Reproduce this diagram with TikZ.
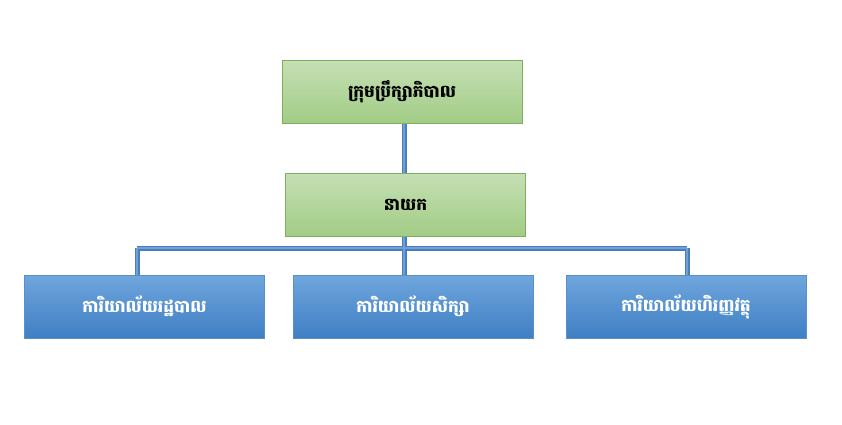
\documentclass[tikz,border=0pt]{standalone}
\usepackage{fontspec}
\newfontfamily\khmerfont[Script=Khmer]{Battambang}
\usetikzlibrary{positioning}
\definecolor{grntop}{HTML}{C5E0B4}
\definecolor{grnbot}{HTML}{A2CC86}
\definecolor{grnline}{HTML}{7FAE5C}
\definecolor{blutop}{HTML}{6FA6DD}
\definecolor{blubot}{HTML}{3F7FC4}
\definecolor{bluline}{HTML}{5B8FC9}
\definecolor{pipe}{HTML}{4A7EBB}
\definecolor{pipein}{HTML}{6FA0D8}
\tikzset{
  topbox/.style={draw=grnline, top color=grntop, bottom color=grnbot, minimum width=240pt, minimum height=63pt, font=\khmerfont\bfseries\fontsize{17}{20}\selectfont, text=black},
  officebox/.style={draw=bluline, top color=blutop, bottom color=blubot, minimum width=240pt, minimum height=63pt, font=\khmerfont\bfseries\fontsize{17}{20}\selectfont, text=white},
  pipeline/.style={draw=pipe, line width=5pt, postaction={draw=pipein, line width=2.5pt}}
}
\begin{document}
\begin{tikzpicture}[x=1pt,y=-1pt]
\useasboundingbox (0,0) rectangle (842,424);

\path[pipeline] (404,123) -- (404,248) (137,248) -- (687,248) (137,248) -- (137,275) (404,248) -- (404,275) (687,248) -- (687,275);

\node[topbox] (board) at (402,91.5) {ក្រុមប្រឹក្សាភិបាល};
\node[topbox] (director) at (405.5,204.5) {នាយក};

\node[officebox] (admin) at (144.5,306.5) {ការិយាល័យរដ្ឋបាល};
\node[officebox] (study) at (413,306.5) {ការិយាល័យសិក្សា};
\node[officebox] (finance) at (686,306.5) {ការិយាល័យហិរញ្ញវត្ថុ};
\end{tikzpicture}
\end{document}
